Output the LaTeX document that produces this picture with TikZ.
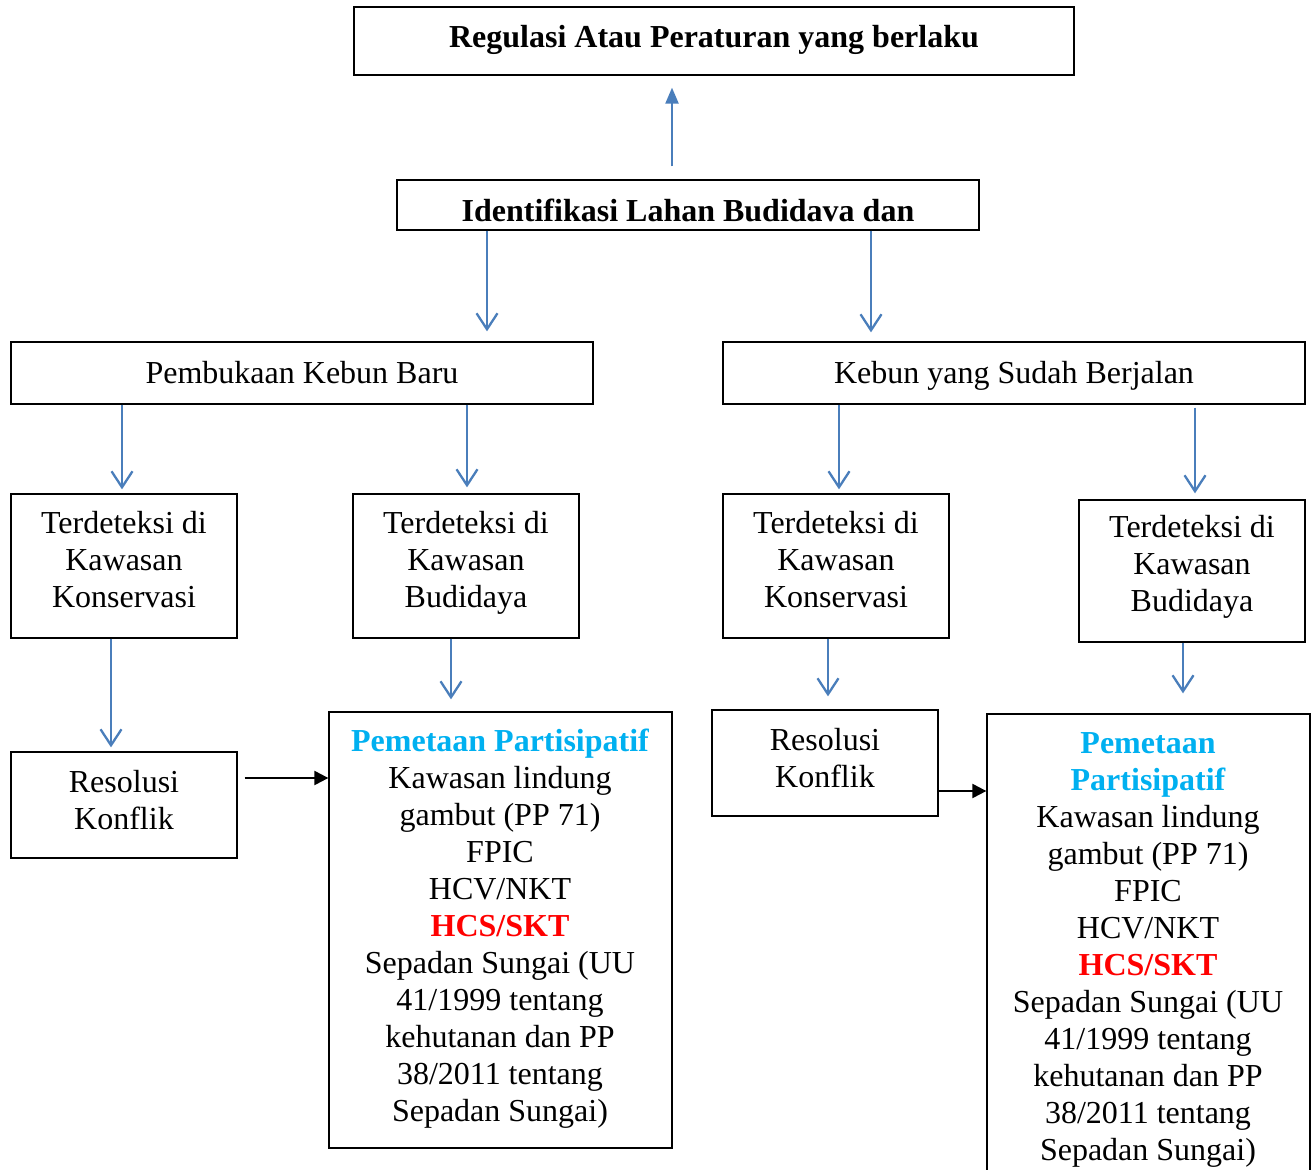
\documentclass[tikz,border=0pt]{standalone}
\usepackage{fontspec}
\setmainfont{Liberation Serif}
\usetikzlibrary{arrows.meta}
\definecolor{flowblue}{HTML}{4A7EBB}
\definecolor{headblue}{HTML}{00B0F0}
\definecolor{alertred}{HTML}{FF0000}
\tikzset{
  box/.style={draw=black, line width=1.3pt, rectangle, inner sep=0pt},
  txt/.style={align=center, inner sep=0pt, font=\fontsize{32}{37}\selectfont},
  bold/.style={txt, font=\fontsize{32}{37}\selectfont\bfseries},
  flow/.style={draw=flowblue, line width=2.3pt,
    -{Straight Barb[length=16pt,width=21pt,line width=2.3pt]}},
  upflow/.style={draw=flowblue, line width=2.2pt,
    -{Triangle[length=16pt,width=13pt]}},
  link/.style={draw=black, line width=2.2pt,
    -{Triangle[length=14pt,width=14pt]}}
}
\begin{document}
\begin{tikzpicture}[x=1pt,y=-1pt]
  \useasboundingbox (0,0) rectangle (1316,1169);
  \clip (0,0) rectangle (1316,1169);

  % boxes
  \node[box, minimum width=720, minimum height=68] (reg)   at (714,41)  {};
  \node[box, minimum width=582, minimum height=50] (ident) at (688,205) {};
  \node[box, minimum width=582, minimum height=62] (pkb)   at (302,373) {};
  \node[box, minimum width=582, minimum height=62] (ksb)   at (1014,373) {};
  \node[box, minimum width=226, minimum height=144] (t1)   at (124,566) {};
  \node[box, minimum width=226, minimum height=144] (t2)   at (466,566) {};
  \node[box, minimum width=226, minimum height=144] (t3)   at (836,566) {};
  \node[box, minimum width=226, minimum height=142] (t4)   at (1192,571) {};
  \node[box, minimum width=226, minimum height=106] (r1)   at (124,805) {};
  \node[box, minimum width=343, minimum height=436] (p1)   at (500.5,930) {};
  \node[box, minimum width=226, minimum height=106] (r2)   at (825,763) {};
  \node[box, minimum width=323, minimum height=486] (p2)   at (1148.5,957) {};

  % texts
  \node[bold] (regtxt)   at (714,40)  {Regulasi Atau Peraturan yang berlaku};
  \node[bold] (identtxt) at (688,210) {Identifikasi Lahan Budidava dan};
  \node[txt]  (pkbtxt)   at (302,373) {Pembukaan Kebun Baru};
  \node[txt]  (ksbtxt)   at (1014,376) {Kebun yang Sudah Berjalan};
  \node[txt]  (t1txt)    at (124,560) {Terdeteksi di\\Kawasan\\Konservasi};
  \node[txt]  (t2txt)    at (466,563) {Terdeteksi di\\Kawasan\\Budidaya};
  \node[txt]  (t3txt)    at (836,560) {Terdeteksi di\\Kawasan\\Konservasi};
  \node[txt]  (t4txt)    at (1192,567) {Terdeteksi di\\Kawasan\\Budidaya};
  \node[txt]  (r1txt)    at (124,800) {Resolusi\\Konflik};
  \node[txt]  (r2txt)    at (825,758) {Resolusi\\Konflik};
  \node[txt]  (p1txt)    at (500,929) {{\bfseries\color{headblue}Pemetaan Partisipatif}\\
    Kawasan lindung\\gambut (PP 71)\\FPIC\\HCV/NKT\\
    {\bfseries\color{alertred}HCS/SKT}\\
    Sepadan Sungai (UU\\41/1999 tentang\\kehutanan dan PP\\38/2011 tentang\\Sepadan Sungai)};
  \node[txt]  (p2txt)    at (1148,950) {{\bfseries\color{headblue}Pemetaan}\\
    {\bfseries\color{headblue}Partisipatif}\\
    Kawasan lindung\\gambut (PP 71)\\FPIC\\HCV/NKT\\
    {\bfseries\color{alertred}HCS/SKT}\\
    Sepadan Sungai (UU\\41/1999 tentang\\kehutanan dan PP\\38/2011 tentang\\Sepadan Sungai)};

  % connectors
  \draw[upflow, shorten <=13pt, shorten >=12pt] (ident.north -| 672,0) -- (reg.south -| 672,0);
  \draw[flow, shorten >=10pt] (ident.south -| 487,0) -- (pkb.north -| 487,0);
  \draw[flow, shorten >=9pt]  (ident.south -| 871,0) -- (ksb.north -| 871,0);
  \draw[flow, shorten >=4pt]  (pkb.south -| 122,0) -- (t1.north -| 122,0);
  \draw[flow, shorten >=6pt]  (pkb.south -| 467,0) -- (t2.north -| 467,0);
  \draw[flow, shorten >=4pt]  (ksb.south -| 839,0) -- (t3.north -| 839,0);
  \draw[flow, shorten <=3pt, shorten >=6pt] (ksb.south -| 1195,0) -- (t4.north -| 1195,0);
  \draw[flow, shorten >=4pt]  (t1.south -| 111,0) -- (r1.north -| 111,0);
  \draw[flow, shorten >=12pt] (t2.south -| 451,0) -- (p1.north -| 451,0);
  \draw[flow, shorten >=13pt] (t3.south -| 828,0) -- (r2.north -| 828,0);
  \draw[flow, shorten >=20pt] (t4.south -| 1183,0) -- (p2.north -| 1183,0);
  \draw[link, shorten <=7pt] (r1.east |- 0,778) -- (p1.west |- 0,778);
  \draw[link] (r2.east |- 0,791) -- (p2.west |- 0,791);
\end{tikzpicture}
\end{document}
